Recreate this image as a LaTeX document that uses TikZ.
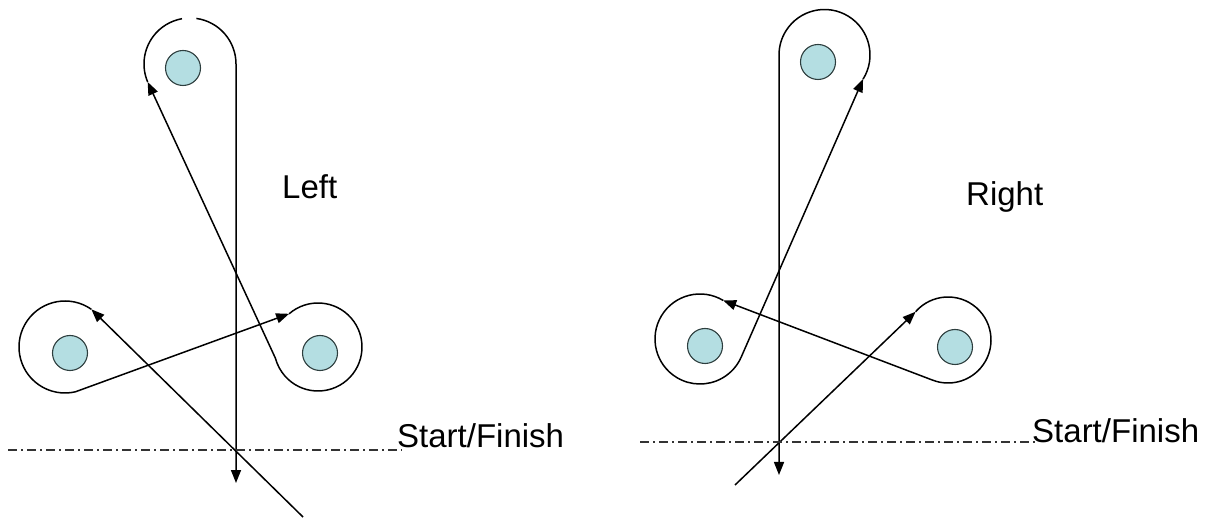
\documentclass[tikz,border=0pt]{standalone}
\usepackage{fontspec}
\setmainfont{Liberation Sans}
\usetikzlibrary{arrows.meta}
\definecolor{pulleyfill}{RGB}{180,222,226}
\definecolor{pulleyedge}{RGB}{45,62,62}
\begin{document}
\begin{tikzpicture}[x=1pt,y=1pt,
  rope/.style={line width=1.5pt, black},
  ropearrow/.style={rope, -{Triangle[length=13pt,width=10pt]}},
  pulley/.style={circle, draw=pulleyedge, line width=1.1pt, fill=pulleyfill, minimum size=35pt, inner sep=0pt},
  startline/.style={line width=1.1pt, black!80, dash pattern=on 9pt off 4pt on 2pt off 4pt},
  lbl/.style={font=\fontsize{33}{40}\selectfont, inner sep=0pt, anchor=base west}]
\useasboundingbox (0,0) rectangle (1206,519);
% ---------- Left diagram ----------
\node[pulley] (Lt) at (183,451) {};
\node[pulley] (Ll) at (70,166) {};
\node[pulley] (Lr) at (320,166) {};
\coordinate (LtIn) at ([shift={(190,455)}]203:46);
\coordinate (LlIn) at ([shift={(65,172)}]55:46);
\coordinate (LrIn) at ([shift={(318,172)}]131:44);
\coordinate (LStart) at (303,2);
\coordinate (LEnd) at (236,36);
% top loop
\draw[rope] (LtIn) arc[start angle=203, end angle=100, radius=46];
\draw[ropearrow] ([shift={(190,455)}]82:46) arc[start angle=82, end angle=0, radius=46] -- (LEnd);
% incoming
\draw[ropearrow] (LStart) -- (LlIn);
% left loop -> right loop
\draw[ropearrow] (LlIn) arc[start angle=55, end angle=283, radius=46] -- (LrIn);
% right loop -> top loop
\draw[ropearrow] (LrIn) arc[start angle=131, end angle=-165, radius=44] -- (LtIn);
% start line and labels
\node[lbl] (SFl) at (397,71) {Start/Finish};
\coordinate (DLa) at (8,69);
\coordinate (DLb) at (402,69);
\draw[startline] (DLa) -- (DLb);
\node[lbl] (LeftLbl) at (282,320) {Left};
% ---------- Right diagram ----------
\node[pulley] (Rt) at (818,457) {};
\node[pulley] (Rl) at (705,173) {};
\node[pulley] (Rr) at (955,172) {};
\coordinate (RtIn) at ([shift={(824.5,464)}]-32:45.5);
\coordinate (RlIn) at ([shift={(700,180)}]59:45);
\coordinate (RrIn) at ([shift={(948,179)}]139:43);
\coordinate (RStart) at (735,34);
\coordinate (REnd) at (779,44);
% top loop -> down
\draw[ropearrow] (RtIn) arc[start angle=-32, end angle=180, radius=45.5] -- (REnd);
% left loop -> top loop
\draw[ropearrow] (RlIn) arc[start angle=59, end angle=337, radius=45] -- (RtIn);
% right loop -> left loop
\draw[ropearrow] (RrIn) arc[start angle=139, end angle=-111, radius=43] -- (RlIn);
% incoming
\draw[ropearrow] (RStart) -- (RrIn);
% start line and labels
\node[lbl] (SFr) at (1032,76) {Start/Finish};
\coordinate (DRa) at (640,77);
\coordinate (DRb) at (1036,77);
\draw[startline] (DRa) -- (DRb);
\node[lbl] (RightLbl) at (966,313) {Right};
\end{tikzpicture}
\end{document}
